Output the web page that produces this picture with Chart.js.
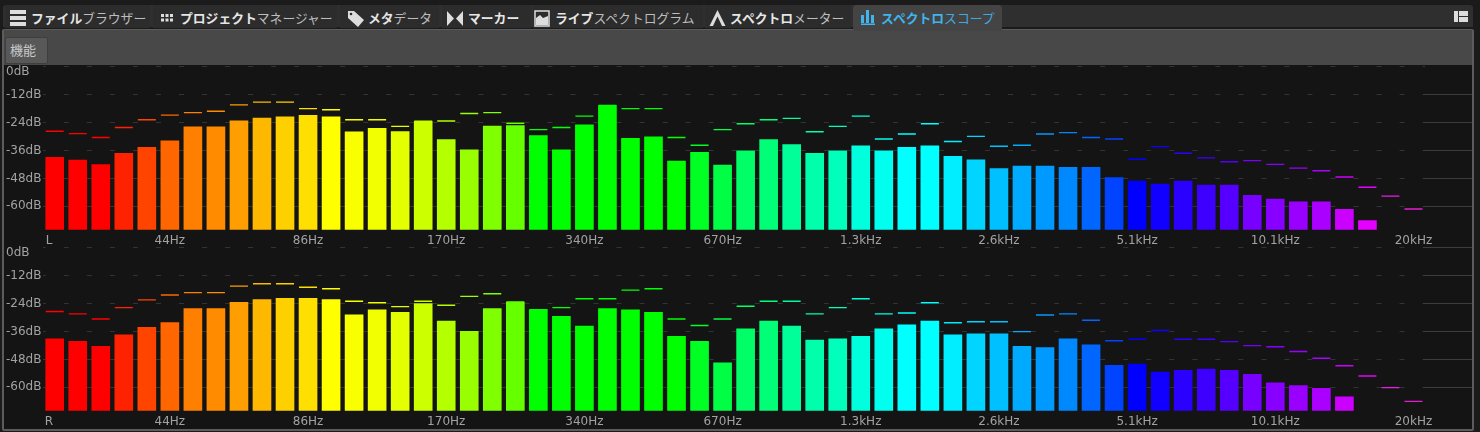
<!DOCTYPE html>
<html lang="ja">
<head>
<meta charset="utf-8">
<title>スペクトロスコープ</title>
<script src="https://cdn.jsdelivr.net/npm/chart.js@4/dist/chart.umd.js"></script>
<style>
  html, body { margin: 0; background: #1b1b1b; width: 1480px; height: 432px; overflow: hidden; }
  body { position: relative; font-family: "Noto Sans CJK JP", "Noto Sans", sans-serif; }
  .tabbar { position: absolute; left: 3px; top: 5px; width: 1470px; height: 22px; background: #2f2f2f; border-radius: 3px 3px 0 0; }
  .tab { position: absolute; top: 5px; height: 23px; background: #2c2c2c; color: #bdbdbd; font-size: 12.8px; line-height: 24px; white-space: nowrap; }
  .tab b { color: #e6e6e6; font-weight: 700; }
  .tab svg { position: absolute; left: 0; top: 0; }
  .tab span { position: absolute; top: 1px; }
  .tab.active { top: 5px; height: 26px; background: #444; border-radius: 4px 4px 0 0; color: #3fa9e0; z-index: 2; }
  .tab.active b { color: #3fb4ee; }
  .panel { position: absolute; left: 2px; top: 29px; width: 1468px; height: 399px; border: 1px solid #5c5c5c; border-width: 1px 2px 2px 2px; background: #141414; border-radius: 2px; }
  .toolbar { position: absolute; left: 0; top: 0; right: 0; height: 35px; background: #484848; }
  .btn { position: absolute; left: 1px; top: 7px; width: 41px; height: 25px; background: #585858; border: 1px solid #3e3e3e; color: #c9c9c9; font-size: 13px; line-height: 24px; text-indent: 4px; border-radius: 2px; }
  canvas { position: absolute; left: 0; }
  #chartL { top: 56px; }
  #chartR { top: 237px; }
  #layoutIcon { position: absolute; left: 1454px; top: 11px; }
</style>
</head>
<body>
<div class="tabbar"></div>
<div id="tabs"></div>
<svg id="layoutIcon" width="14" height="11"><rect x="0" y="0" width="4" height="11" fill="#ddd"/><rect x="5" y="0" width="9" height="5" fill="#ddd"/><rect x="5" y="6" width="9" height="5" fill="#ddd"/></svg>
<div class="panel"><div class="toolbar"><div class="btn">機能</div></div></div>
<canvas id="chartL" width="1474" height="190"></canvas>
<canvas id="chartR" width="1474" height="190"></canvas>
<script>
// one label per analyser band, only every sixth band is named
const bandLabels = [
  '', '', '', '', '', '44Hz', '', '', '', '', '', '86Hz', '', '', '', '', '', '170Hz', '', '',
  '', '', '', '340Hz', '', '', '', '', '', '670Hz', '', '', '', '', '', '1.3kHz', '', '', '', '',
  '', '2.6kHz', '', '', '', '', '', '5.1kHz', '', '', '', '', '', '10.1kHz', '', '', '', '', '', '20kHz'
];
const dbTicks = [0, -12, -24, -36, -48, -60];
const dbFloor = -70;

const levelL = [
  -39.0, -40.2, -42.1, -37.3, -34.7, -31.9, -25.9, -25.9, -23.3, -22.2, -21.6, -21.0, -21.6, -28.1, -26.6,
  -27.9, -23.7, -31.4, -35.8, -25.6, -25.4, -29.7, -35.8, -25.0, -16.8, -30.8, -30.2, -40.6, -36.8, -42.3,
  -36.2, -31.4, -33.5, -37.3, -36.2, -34.1, -36.2, -34.7, -34.1, -38.5, -40.0, -43.8, -42.7, -42.7, -43.3,
  -43.3, -47.7, -49.2, -50.4, -49.2, -50.9, -50.9, -55.3, -56.9, -58.0, -58.0, -61.3, -66.1
];
const peakL = [
  -27.8, -28.8, -30.5, -26.2, -22.9, -20.9, -19.8, -19.2, -16.5, -15.3, -15.3, -18.1, -18.6, -22.9, -22.9,
  -25.7, -23.5, -23.4, -20.2, -19.8, -24.4, -27.1, -26.2, -21.3, -16.7, -18.1, -18.1, -30.5, -33.8, -27.1,
  -24.6, -22.9, -22.3, -28.0, -25.7, -21.3, -31.1, -29.0, -24.6, -32.2, -30.0, -34.2, -33.8, -29.0, -28.4,
  -30.5, -31.1, -39.8, -34.4, -37.2, -39.2, -40.9, -40.4, -42.0, -43.6, -44.7, -47.4, -51.8, -55.6, -61.1
];
const levelR = [
  -39.2, -40.3, -42.4, -37.5, -34.3, -32.2, -26.2, -26.2, -23.5, -22.4, -21.8, -21.8, -22.4, -28.9, -26.8,
  -27.8, -24.1, -31.6, -36.0, -26.2, -23.5, -26.8, -29.5, -33.7, -26.2, -26.8, -27.8, -38.1, -40.3, -49.5,
  -34.9, -31.6, -33.7, -39.7, -39.2, -38.1, -34.9, -33.2, -31.6, -37.5, -37.0, -37.0, -42.4, -42.9, -39.2,
  -41.8, -50.6, -50.0, -53.4, -52.7, -52.2, -52.7, -54.4, -58.1, -59.2, -60.4, -64.1
];
const peakR = [
  -27.5, -28.5, -30.7, -25.8, -22.5, -20.4, -19.4, -19.4, -16.6, -15.6, -15.6, -17.1, -17.7, -23.1, -23.7,
  -25.4, -23.1, -24.8, -21.0, -19.9, -23.4, -26.7, -25.8, -22.0, -22.0, -18.3, -17.7, -30.7, -33.5, -30.7,
  -25.2, -23.1, -23.1, -28.5, -25.8, -22.0, -28.5, -28.1, -23.7, -32.3, -31.9, -31.9, -36.1, -29.0, -28.5,
  -31.2, -40.0, -39.4, -35.6, -39.4, -39.4, -40.4, -42.1, -42.6, -44.6, -47.5, -50.7, -55.1, -60.1, -66.0
];

const bandColors = [
  '#ff0000', '#ff0000', '#ff0000', '#ff2200', '#ff4400', '#ff6600', '#ff8000', '#ff8c00', '#ff9e00', '#ffb800',
  '#ffd000', '#ffdf00', '#ffff00', '#faff00', '#f2ff00', '#e4ff00', '#ccff00', '#b4ff00', '#99ff00', '#80ff00',
  '#66ff00', '#00ff00', '#00ff00', '#00ff00', '#00ff00', '#00ff00', '#00ff00', '#00ff00', '#00ff22', '#00ff44',
  '#00ff66', '#00ff77', '#00ff99', '#00ffaa', '#00ffbb', '#00ffdd', '#00ffee', '#00ffff', '#00ffff', '#00eeff',
  '#00d5ff', '#00c0ff', '#00aaff', '#0099ff', '#0088ff', '#0066ff', '#0044ff', '#0000ff', '#1100ff', '#2a00ff',
  '#3d00ff', '#5500ff', '#7700ff', '#8800ff', '#9900ff', '#aa00ff', '#cc00ff', '#e600ff', '#e61ee6', '#e61ed2'
];

const tabs = [
  { left: 5, width: 145, textLeft: 26, bold: 'ファイル', light: 'ブラウザー', icon: '<rect x="5" y="5" width="16" height="4" fill="#ddd"/><rect x="5" y="11" width="16" height="4" fill="#ddd"/><rect x="5" y="17" width="16" height="4" fill="#ddd"/>' },
  { left: 153, width: 184, textLeft: 27, bold: 'プロジェクト', light: 'マネージャー', icon: '<path d="M8 9h3v3H8zM12.500 9h3v3h-3zM17 9h3v3h-3zM8 13.500h3v3H8zM12.500 13.500h3v3h-3zM17 13.500h3v3h-3z" fill="#ddd"/>' },
  { left: 340, width: 99, textLeft: 28, bold: 'メタ', light: 'データ', icon: '<path d="M8 6h6l10 9-6 7-10-9z" fill="#ddd"/><circle cx="11" cy="9" r="1.300" fill="#2c2c2c"/>' },
  { left: 442, width: 89, textLeft: 26, bold: 'マーカー', light: '', icon: '<path d="M5 6l7 7.500-7 7.500zM21 6l-7 7.500 7 7.500z" fill="#ddd"/>' },
  { left: 533, width: 170, textLeft: 22, bold: 'ライブ', light: 'スペクトログラム', icon: '<rect x="2" y="6" width="14" height="15" fill="none" stroke="#ddd" stroke-width="1.500"/><path d="M3 20v-7l4-3 3 3 5-2v9z" fill="#ddd"/>' },
  { left: 705, width: 146, textLeft: 25, bold: 'スペクトロ', light: 'メーター', icon: '<path d="M12.500 5l8 16h-3.500l-4.500-9.500-4.500 9.500h-3.500z" fill="#ddd"/>' },
  { left: 853, width: 149, textLeft: 28, bold: 'スペクトロ', light: 'スコープ', icon: '<path d="M8 10h3v8H8zM13 5h3v13h-3zM18 10h3v8h-3zM8 18.500h14V20H8z" fill="#3fb4ee"/>', active: true }
];

document.getElementById('tabs').innerHTML = tabs.map(t =>
  `<div class="tab${t.active ? ' active' : ''}" style="left:${t.left}px;width:${t.width}px">` +
  `<svg width="28" height="26">${t.icon}</svg><span style="left:${t.textLeft}px"><b>${t.bold}</b>${t.light}</span></div>`
).join('');

const axisFont = { family: '"DejaVu Sans", sans-serif', size: 12, lineHeight: 0.9 };
const axisColor = '#a2a2a2';
const ruleColor = '#333333';
const tailColor = '#3c3c3c';

// the dashed rules stop at the last band, carry them on solid to the panel edge
const ruleTails = {
  id: 'ruleTails',
  beforeDatasetsDraw(chart, args, opts) {
    const { ctx, chartArea, scales } = chart;
    ctx.save();
    ctx.strokeStyle = tailColor;
    ctx.lineWidth = 1;
    dbTicks.filter(v => v <= opts.from).forEach(v => {
      const y = Math.round(scales.y.getPixelForValue(v)) + 0.5;
      ctx.beginPath();
      ctx.moveTo(chartArea.right - 2, y);
      ctx.lineTo(1472, y);
      ctx.stroke();
    });
    ctx.restore();
  }
};

function createChannelChart(canvasId, channel, levels, peaks, tailFrom) {
  return new Chart(document.getElementById(canvasId), {
    type: 'bar',
    data: {
      labels: bandLabels,
      datasets: [
        {
          type: 'line',
          data: peaks,
          showLine: false,
          order: 0,
          pointStyle: 'line',
          pointRadius: 9,
          pointBorderWidth: 1.4,
          pointBorderColor: bandColors,
          pointBackgroundColor: bandColors
        },
        {
          data: levels,
          order: 1,
          base: dbFloor,
          barThickness: 18,
          backgroundColor: bandColors
        }
      ]
    },
    options: {
      responsive: false,
      animation: false,
      devicePixelRatio: 1,
      layout: { padding: { left: 6, right: 49, top: 0, bottom: 0 } },
      plugins: { legend: { display: false }, tooltip: { enabled: false }, ruleTails: { from: tailFrom } },
      scales: {
        x: {
          grid: { display: false, drawTicks: false },
          border: { display: false },
          afterFit(scale) { scale.height = 16.3; },
          ticks: {
            autoSkip: false,
            maxRotation: 0,
            padding: 6,
            color: axisColor,
            font: axisFont,
            // trailing spaces pull the channel letter left of the band centre
            callback(value, index) { return index === 0 ? channel + '   ' : bandLabels[index]; }
          }
        },
        y: {
          min: dbFloor,
          max: 0,
          afterBuildTicks(scale) { scale.ticks = dbTicks.map(value => ({ value })); },
          afterFit(scale) { scale.width = 37.2; },
          grid: { color: ruleColor, drawTicks: false },
          border: { display: false, dash: [5, 18.03], dashOffset: 2.2 },
          ticks: {
            crossAlign: 'far',
            padding: 0,
            color: axisColor,
            font: axisFont,
            // 0dB sits under its rule, an empty first line pushes it down
            callback(value) { return value === 0 ? ['', '0dB'] : value + 'dB'; }
          }
        }
      }
    },
    plugins: [ruleTails]
  });
}

createChannelChart('chartL', 'L', levelL, peakL, -12);
createChannelChart('chartR', 'R', levelR, peakR, 0);
</script>
</body>
</html>
